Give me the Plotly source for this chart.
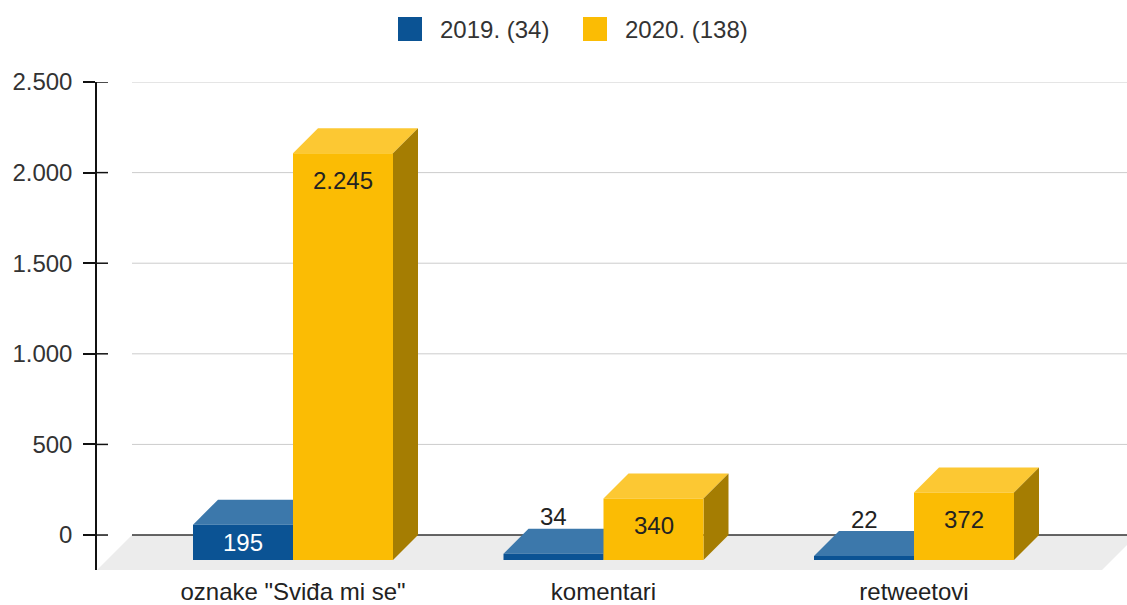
import plotly.graph_objects as go

# ---- data ----
categories = ['oznake "Sviđa mi se"', "komentari", "retweetovi"]
series_names = ["2019. (34)", "2020. (138)"]
values_2019 = [195, 34, 22]
values_2020 = [2245, 340, 372]
y_tick_values = [0, 500, 1000, 1500, 2000, 2500]
y_tick_labels = ["0", "500", "1.000", "1.500", "2.000", "2.500"]

# ---- styling ----
FRONT = ["#0b5394", "#fbbc04"]
TOP = ["#3c78ab", "#fcc833"]
SIDE = ["#083f72", "#a57d02"]
FONT = "Arial, Liberation Sans, sans-serif"
FS = 24

# ---- geometry (pixels) ----
W_PX, H_PX = 1127, 605
M_L, M_R, M_T, M_B = 97, 0, 82, 35
PLOT_W = W_PX - M_L - M_R
PLOT_H = H_PX - M_T - M_B

Y_MIN, Y_MAX = -193, 2500
PPU = PLOT_H / (Y_MAX - Y_MIN)          # pixels per value unit
CAT_PX = 310.5                          # pixels between categories
CAT0_PX = 293 - M_L                     # first category centre inside plot
X_MIN = -CAT0_PX / CAT_PX
X_MAX = (PLOT_W - CAT0_PX) / CAT_PX

BAR_PX, DEPTH_PX, FLOOR_PX = 100, 25, 35
BAR_W = BAR_PX / CAT_PX
DX = DEPTH_PX / CAT_PX
DY = DEPTH_PX / PPU


def px_x(px):
    return (px - M_L) / PLOT_W


def px_y(py):
    return (H_PX - M_B - py) / PLOT_H


fig = go.Figure()
shapes = []
annotations = []

# floor of the 3D box
fx0, fx1 = px_x(M_L), px_x(1102)
fd = FLOOR_PX / PLOT_W
shapes.append(dict(
    type="path", xref="paper", yref="y", layer="below",
    path=f"M {fx0},{Y_MIN} L {fx1},{Y_MIN} L {fx1 + fd},0 L {fx0 + fd},0 Z",
    fillcolor="#ececec", line=dict(width=0)))

# back-wall gridlines
for tv in y_tick_values:
    shapes.append(dict(
        type="line", xref="paper", yref="y", layer="below",
        x0=fd, x1=1, y0=tv, y1=tv,
        line=dict(color="#333333" if tv == 0 else "#cccccc",
                  width=1.5 if tv == 0 else 1)))
    # right half of the crossing tick marks
    shapes.append(dict(
        type="line", xref="paper", yref="y", layer="above",
        x0=0, x1=px_x(M_L + 11), y0=tv, y1=tv,
        line=dict(color="#111111", width=1.5)))

xs = list(range(len(categories)))
all_values = [values_2019, values_2020]
offsets = [-BAR_W, 0.0]

for s, (name, vals) in enumerate(zip(series_names, all_values)):
    fig.add_trace(go.Bar(
        x=xs, y=vals, base=[-DY] * len(vals), width=BAR_W, offset=offsets[s],
        name=name, marker=dict(color=FRONT[s], line=dict(width=0)),
        showlegend=False, hoverinfo="skip"))

# top and side faces, data labels
for i in xs:
    for s, vals in enumerate(all_values):
        v = vals[i]
        x0 = i + offsets[s]
        x1 = x0 + BAR_W
        base = -DY
        top = -DY + v
        shapes.append(dict(
            type="path", xref="x", yref="y", layer="below",
            path=(f"M {x0},{top} L {x1},{top} L {x1 + DX},{top + DY} "
                  f"L {x0 + DX},{top + DY} Z"),
            fillcolor=TOP[s], line=dict(width=0)))
        shapes.append(dict(
            type="path", xref="x", yref="y", layer="below",
            path=(f"M {x1},{base} L {x1},{top} L {x1 + DX},{top + DY} "
                  f"L {x1 + DX},{base + DY} Z"),
            fillcolor=SIDE[s], line=dict(width=0)))

        h = v * PPU
        if h < 20:
            shift, color = 37, "#222222"
        elif h < 54:
            shift, color = -h / 2, ("#ffffff" if s == 0 else "#222222")
        else:
            shift, color = -27, ("#ffffff" if s == 0 else "#222222")
        label = f"{v:,}".replace(",", ".")
        annotations.append(dict(
            x=x0 + BAR_W / 2, y=top, xref="x", yref="y", yshift=shift,
            text=label, showarrow=False, xanchor="center", yanchor="middle",
            font=dict(family=FONT, size=FS, color=color)))

# legend
leg_sq = [398, 583]
leg_txt = [438, 623]
for s, name in enumerate(series_names):
    shapes.append(dict(
        type="rect", xref="paper", yref="paper", layer="above",
        x0=px_x(leg_sq[s]), x1=px_x(leg_sq[s] + 24),
        y0=px_y(41), y1=px_y(17),
        fillcolor=FRONT[s], line=dict(width=0)))
    annotations.append(dict(
        x=px_x(leg_txt[s]), y=px_y(29), xref="paper", yref="paper",
        text=name, showarrow=False, xanchor="left", yanchor="middle",
        font=dict(family=FONT, size=FS, color="#333333")))

fig.update_layout(
    width=W_PX, height=H_PX,
    margin=dict(l=M_L, r=M_R, t=M_T, b=M_B, pad=0, autoexpand=False),
    paper_bgcolor="white", plot_bgcolor="rgba(0,0,0,0)",
    barmode="overlay", showlegend=False,
    shapes=shapes, annotations=annotations,
    font=dict(family=FONT, size=FS, color="#333333"),
    xaxis=dict(range=[X_MIN, X_MAX], tickvals=xs, ticktext=categories,
               showgrid=False, zeroline=False, showline=False, ticks="",
               ticklabelstandoff=5, automargin=False,
               tickfont=dict(family=FONT, size=FS, color="#222222"),
               fixedrange=True),
    yaxis=dict(range=[Y_MIN, Y_MAX], tickvals=y_tick_values,
               ticktext=y_tick_labels, showgrid=False, zeroline=False,
               showline=True, linecolor="#111111", linewidth=1.5,
               ticks="outside", ticklen=12, tickwidth=1.5,
               tickcolor="#111111", ticklabelstandoff=6, automargin=False,
               tickfont=dict(family=FONT, size=FS, color="#333333"),
               fixedrange=True),
)

fig.write_html("out.html")
